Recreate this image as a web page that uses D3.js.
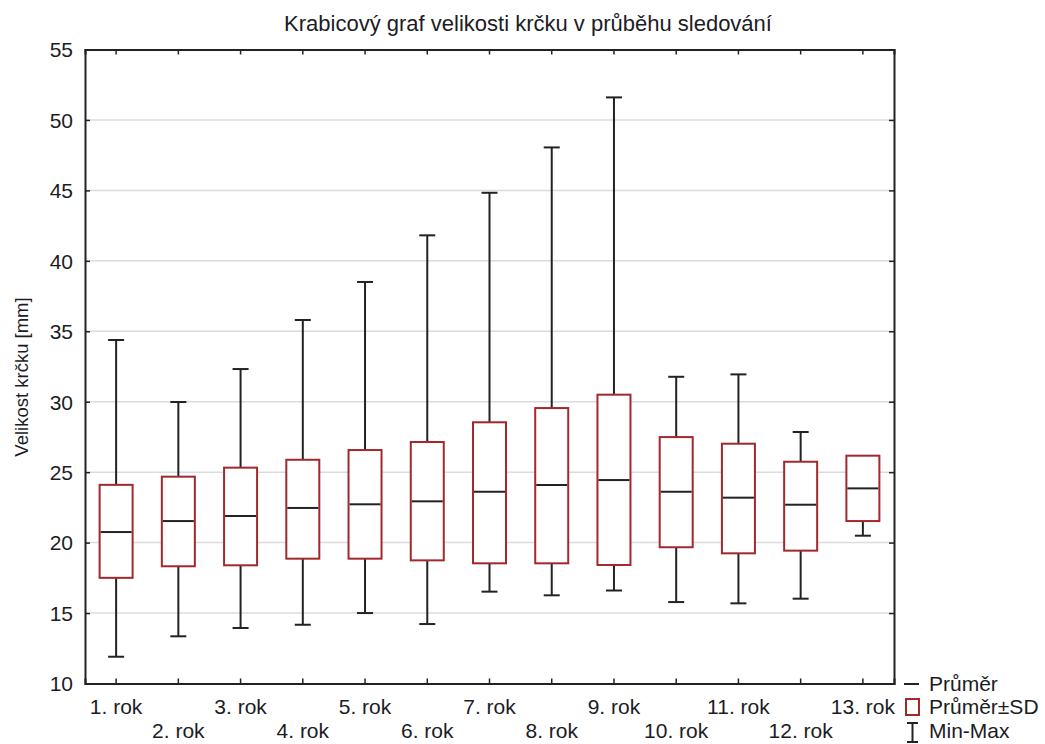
<!DOCTYPE html>
<html>
<head>
<meta charset="utf-8">
<script src="https://cdn.jsdelivr.net/npm/d3@7"></script>
<style>
  body { margin: 0; background: #fff; }
  text { font-family: "Liberation Sans", Arial, sans-serif; fill: #1c1c24; }
</style>
</head>
<body>
<div id="container"></div>
<script>
const width = 1045;
const height = 744;

// DATA
const categories = ["1. rok", "2. rok", "3. rok", "4. rok", "5. rok", "6. rok", "7. rok",
    "8. rok", "9. rok", "10. rok", "11. rok", "12. rok", "13. rok"];
const means = [20.75, 21.53, 21.89, 22.46, 22.72, 22.93, 23.61, 24.09, 24.44, 23.61, 23.19, 22.69, 23.85];
const sdLow = [17.5, 18.32, 18.39, 18.86, 18.86, 18.74, 18.53, 18.53, 18.41, 19.67, 19.24, 19.43, 21.53];
const sdHigh = [24.1, 24.68, 25.32, 25.88, 26.57, 27.14, 28.54, 29.55, 30.5, 27.49, 27.02, 25.74, 26.17];
const minVals = [11.9, 13.35, 13.94, 14.17, 15.0, 14.22, 16.52, 16.26, 16.6, 15.78, 15.69, 16.02, 20.49];
const maxVals = [34.38, 29.98, 32.32, 35.8, 38.5, 41.81, 44.83, 48.05, 51.6, 31.77, 31.94, 27.85, 26.17];
const yTicks = [10, 15, 20, 25, 30, 35, 40, 45, 50, 55];
const gridTicks = [15, 20, 25, 30, 35, 40, 45, 50];

const data = categories.map(function (c, i) {
    return { cat: c, mean: means[i], lo: sdLow[i], hi: sdHigh[i], min: minVals[i], max: maxVals[i], i: i };
});

const plot = { left: 85, right: 894, top: 49.5, bottom: 683.5 };
const boxColor = "#a3282c";
const ink = "#222";
const fontSize = "21px";

const svg = d3.select("div#container").append("svg")
    .attr("width", width)
    .attr("height", height);

// SCALES
const xScale = d3.scaleBand().domain(categories).range([plot.left, plot.right]).padding(0);
const yScale = d3.scaleLinear().domain([10, 55]).range([plot.bottom, plot.top]);
const cx = function (d) { return xScale(d.cat) + xScale.bandwidth() / 2; };

// GRID
svg.append("g")
    .selectAll("line")
    .data(gridTicks)
    .enter().append("line")
    .attr("x1", plot.left).attr("x2", plot.right)
    .attr("y1", d => yScale(d)).attr("y2", d => yScale(d))
    .attr("stroke", "#dcdcdc")
    .attr("stroke-width", 1.5);

// AXES
const axisLeft = d3.axisLeft(yScale).tickValues(yTicks).tickSize(-5).tickPadding(12).tickFormat(d3.format("d"));
const axisRight = d3.axisRight(yScale).tickValues(yTicks).tickSize(-5).tickFormat("");
const axisBottom = d3.axisBottom(xScale).tickSize(-5).tickFormat("");
const axisTop = d3.axisTop(xScale).tickSize(-5).tickFormat("");

const gl = svg.append("g").attr("transform", "translate(" + plot.left + ",0)").call(axisLeft);
svg.append("g").attr("transform", "translate(" + plot.right + ",0)").call(axisRight);
svg.append("g").attr("transform", "translate(0," + plot.bottom + ")").call(axisBottom);
svg.append("g").attr("transform", "translate(0," + plot.top + ")").call(axisTop);

svg.selectAll(".domain").attr("stroke", ink).attr("stroke-width", 2);
svg.selectAll(".tick line").attr("stroke", ink).attr("stroke-width", 1.5);
gl.selectAll(".tick text")
    .style("font-size", fontSize)
    .style("font-family", "'Liberation Sans', Arial, sans-serif")
    .attr("dy", "0.35em")
    .style("fill", "#1c1c24");

// x labels, staggered in two rows
svg.append("g")
    .selectAll("text")
    .data(data)
    .enter().append("text")
    .attr("x", cx)
    .attr("y", d => d.i % 2 === 0 ? 714 : 738)
    .attr("text-anchor", "middle")
    .style("font-size", fontSize)
    .text(d => d.cat);

// BOXES
const boxW = 33;
const capW = 16;
const g = svg.append("g")
    .selectAll("g")
    .data(data)
    .enter().append("g");

g.append("line")
    .attr("x1", cx).attr("x2", cx)
    .attr("y1", d => yScale(d.hi)).attr("y2", d => yScale(d.max))
    .attr("stroke", ink).attr("stroke-width", 2);
g.append("line")
    .attr("x1", cx).attr("x2", cx)
    .attr("y1", d => yScale(d.lo)).attr("y2", d => yScale(d.min))
    .attr("stroke", ink).attr("stroke-width", 2);
g.append("line")
    .attr("x1", d => cx(d) - capW / 2).attr("x2", d => cx(d) + capW / 2)
    .attr("y1", d => yScale(d.max)).attr("y2", d => yScale(d.max))
    .attr("stroke", ink).attr("stroke-width", 2)
    .style("display", d => d.max > d.hi ? null : "none");
g.append("line")
    .attr("x1", d => cx(d) - capW / 2).attr("x2", d => cx(d) + capW / 2)
    .attr("y1", d => yScale(d.min)).attr("y2", d => yScale(d.min))
    .attr("stroke", ink).attr("stroke-width", 2);
g.append("rect")
    .attr("x", d => cx(d) - boxW / 2)
    .attr("width", boxW)
    .attr("y", d => yScale(d.hi))
    .attr("height", d => yScale(d.lo) - yScale(d.hi))
    .attr("fill", "#fff")
    .attr("stroke", boxColor).attr("stroke-width", 2);
g.append("line")
    .attr("x1", d => cx(d) - boxW / 2 + 1).attr("x2", d => cx(d) + boxW / 2 - 1)
    .attr("y1", d => yScale(d.mean)).attr("y2", d => yScale(d.mean))
    .attr("stroke", ink).attr("stroke-width", 2);

// TITLES
svg.append("text")
    .attr("x", 528).attr("y", 31)
    .attr("text-anchor", "middle")
    .style("font-size", "22px")
    .text("Krabicový graf velikosti krčku v průběhu sledování");

svg.append("text")
    .attr("transform", "translate(28,377) rotate(-90)")
    .attr("text-anchor", "middle")
    .style("font-size", "18.5px")
    .text("Velikost krčku [mm]");

// LEGEND
const lg = svg.append("g");
lg.append("line").attr("x1", 904).attr("x2", 919).attr("y1", 684).attr("y2", 684)
    .attr("stroke", ink).attr("stroke-width", 2);
lg.append("text").attr("x", 929).attr("y", 691).style("font-size", fontSize).text("Průměr");
lg.append("rect").attr("x", 906).attr("y", 699).attr("width", 13).attr("height", 16)
    .attr("fill", "#fff").attr("stroke", boxColor).attr("stroke-width", 2);
lg.append("text").attr("x", 929).attr("y", 714).style("font-size", fontSize).text("Průměr±SD");
lg.append("line").attr("x1", 912.5).attr("x2", 912.5).attr("y1", 723).attr("y2", 742)
    .attr("stroke", ink).attr("stroke-width", 2);
lg.append("line").attr("x1", 907).attr("x2", 918).attr("y1", 723).attr("y2", 723)
    .attr("stroke", ink).attr("stroke-width", 2);
lg.append("line").attr("x1", 907).attr("x2", 918).attr("y1", 742).attr("y2", 742)
    .attr("stroke", ink).attr("stroke-width", 2);
lg.append("text").attr("x", 929).attr("y", 738).style("font-size", fontSize).text("Min-Max");
</script>
</body>
</html>
